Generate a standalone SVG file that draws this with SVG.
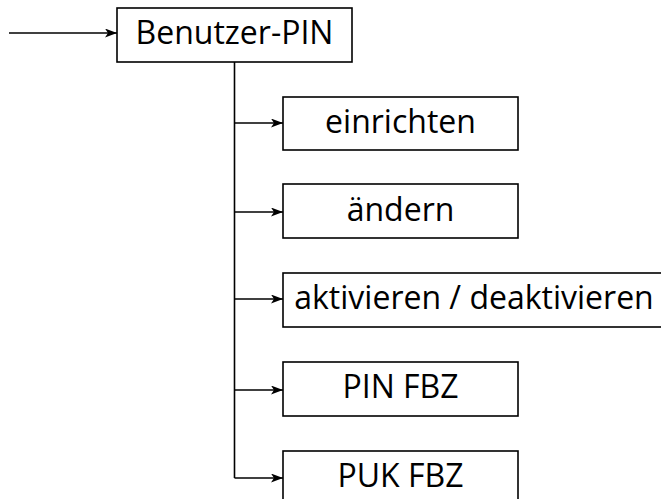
<svg xmlns="http://www.w3.org/2000/svg" width="661" height="499" viewBox="0 0 661 499">
<style>
.box{fill:#fff;stroke:#000;stroke-width:1.6}
.lbl{font-family:"Open Sans","Noto Sans",sans-serif;font-size:32px;fill:#000;text-anchor:middle}
.ln{fill:none;stroke:#000;stroke-width:1.6}
</style>
<defs>
<marker id="ah" viewBox="0 0 12 9" refX="12" refY="4.5" markerWidth="12" markerHeight="9" markerUnits="userSpaceOnUse" orient="auto">
<path d="M0,0 L12,4.5 L0,9 L3,4.5 Z" fill="#000"/>
</marker>
</defs>
<rect width="661" height="499" fill="#fff"/>
<g id="connectors">
<path class="ln" d="M9,33 H117" marker-end="url(#ah)"/>
<path class="ln" d="M234.5,62 V478"/>
<path class="ln" d="M234.5,123 H283" marker-end="url(#ah)"/>
<path class="ln" d="M234.5,212 H283" marker-end="url(#ah)"/>
<path class="ln" d="M234.5,299 H283" marker-end="url(#ah)"/>
<path class="ln" d="M234.5,390 H283" marker-end="url(#ah)"/>
<path class="ln" d="M234.5,478 H283" marker-end="url(#ah)"/>
</g>
<g id="n-benutzer"><rect class="box" x="117" y="8" width="235" height="54"/><text class="lbl" x="234.5" y="44">Benutzer-PIN</text></g>
<g id="n-einrichten"><rect class="box" x="283" y="97" width="235" height="53"/><text class="lbl" x="400.5" y="133">einrichten</text></g>
<g id="n-aendern"><rect class="box" x="283" y="184" width="235" height="54"/><text class="lbl" x="400.5" y="221">ändern</text></g>
<g id="n-aktivieren"><rect class="box" x="283" y="273" width="385" height="54"/><text class="lbl" x="474" y="309">aktivieren / deaktivieren</text></g>
<g id="n-pinfbz"><rect class="box" x="283" y="362" width="235" height="54"/><text class="lbl" x="400.5" y="398">PIN FBZ</text></g>
<g id="n-pukfbz"><rect class="box" x="283" y="451" width="235" height="60"/><text class="lbl" x="400.5" y="487">PUK FBZ</text></g>
</svg>
